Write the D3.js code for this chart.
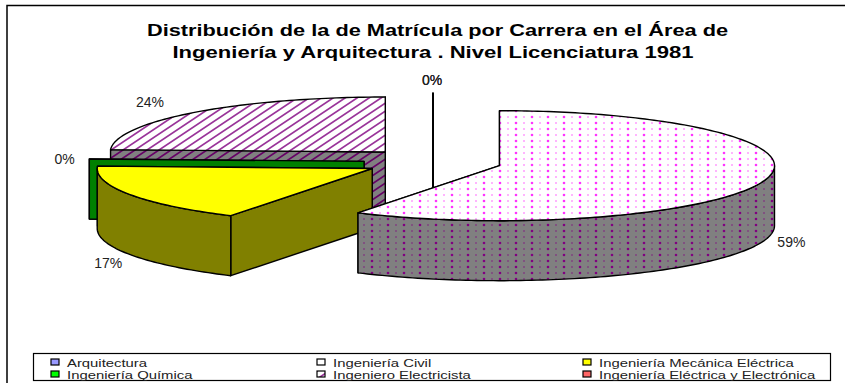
<!DOCTYPE html>
<html>
<head>
<meta charset="UTF-8">
<style>
    body { margin: 0; background: white; }
    svg { display: block; }
    text { font-family: "Liberation Sans", Arial, sans-serif; fill: #222; }
</style>
<script src="https://cdn.jsdelivr.net/npm/d3@7"></script>
</head>
<body>
<div id="chart"></div>
<script>
const categories = ['Arquitectura', 'Ingeniería Civil', 'Ingeniería Mecánica Eléctrica',
    'Ingeniería Química', 'Ingeniero Electricista', 'Ingeniería Eléctrica y Electrónica'];
const values = [0, 58.6, 17.1, 0, 24.3, 0];
const titleLines = ['Distribución de la de Matrícula por Carrera en el Área de',
    'Ingeniería y Arquitectura . Nivel Licenciatura 1981'];
const topFills = ['#9999ff', 'url(#dots)', '#ffff00', '#00ff00', 'url(#hatch)', '#ff6666'];
const wallFills = ['#4c4c80', 'url(#dotsDark)', '#808000', '#008000', 'url(#hatchDark)', '#803333'];
const swatchFills = ['#9999ff', '#ffffff', '#ffff00', '#00ff00', 'url(#hatch)', '#ff6666'];
// back to front
const drawOrder = [0, 5, 4, 3, 2, 1];
// small corrections to the automatic label spot
const labelNudge = [[-1, -8], [3, 0], [0, 6], [0, 0], [-28, -7], [-1, -8]];

const w = 845, h = 383;
const cx = 433, cy = 162, rx = 275, tilt = 0.2, depth = 60, explode = 69;

const svg = d3.select('#chart').append('svg').attr('width', w).attr('height', h);
const defs = svg.append('defs');

function dotPattern(id, bg, fg) {
    const p = defs.append('pattern').attr('id', id).attr('patternUnits', 'userSpaceOnUse')
        .attr('width', 16).attr('height', 6);
    p.append('rect').attr('width', 16).attr('height', 6).attr('fill', bg);
    p.append('circle').attr('cx', 4).attr('cy', 3).attr('r', 1.3).attr('fill', fg);
    p.append('circle').attr('cx', 12).attr('cy', 3).attr('r', 0.7).attr('fill', fg);
}
function hatchPattern(id, bg, fg) {
    const p = defs.append('pattern').attr('id', id).attr('patternUnits', 'userSpaceOnUse')
        .attr('width', 12).attr('height', 8);
    p.append('rect').attr('width', 12).attr('height', 8).attr('fill', bg);
    p.append('path').attr('d', 'M-3,10 L15,-2 M-15,10 L3,-2 M9,10 L27,-2')
        .attr('stroke', fg).attr('stroke-width', 1.7);
}
dotPattern('dots', '#ffffff', '#ff33ff');
dotPattern('dotsDark', '#808080', '#800080');
hatchPattern('hatch', '#ffffff', '#993399');
hatchPattern('hatchDark', '#808080', '#660066');

// frame, open on the right and at the bottom like the original
svg.append('path').attr('d', d3.line()([[7, h], [7, 5.5], [w, 5.5]]))
    .attr('fill', 'none').attr('stroke', '#000').attr('stroke-width', 1.5);

const titleWidths = [581, 521];
svg.selectAll('.title').data(titleLines).enter().append('text')
    .attr('class', 'title')
    .attr('x', (d, i) => i ? 433 : 437.5)
    .attr('y', (d, i) => 35.5 + i * 22)
    .attr('text-anchor', 'middle')
    .attr('textLength', (d, i) => titleWidths[i])
    .attr('lengthAdjust', 'spacingAndGlyphs')
    .style('font-size', '16px')
    .style('font-weight', 'bold')
    .style('fill', '#000')
    .text(d => d);

const arcs = d3.pie().sort(null)(values);
const line = d3.line();

function center(a) {
    const mid = (a.startAngle + a.endAngle) / 2;
    return [cx + explode * Math.sin(mid), cy - explode * Math.cos(mid) * tilt];
}
function project(c, angle, r) {
    return [c[0] + r * Math.sin(angle), c[1] - r * Math.cos(angle) * tilt];
}
function arcPoints(c, a0, a1) {
    const n = Math.max(1, Math.ceil((a1 - a0) / 0.02));
    return d3.range(n + 1).map(i => project(c, a0 + (a1 - a0) * i / n, rx));
}
const drop = p => [p[0], p[1] + depth];

const pieG = svg.append('g');
drawOrder.forEach(i => {
    const a = arcs[i], c = center(a);
    const g = pieG.append('g').attr('stroke', '#000').attr('stroke-width', 1.4)
        .attr('stroke-linejoin', 'round');

    // flat radial walls, the hidden one (end angle) goes first
    [a.endAngle, a.startAngle].forEach(angle => {
        const p = project(c, angle, rx);
        g.append('path').attr('d', line([c, p, drop(p), drop(c)]) + 'Z').attr('fill', wallFills[i]);
    });

    // curved wall, only the part facing the viewer
    const w0 = Math.max(a.startAngle, Math.PI / 2), w1 = Math.min(a.endAngle, Math.PI * 1.5);
    if (w1 > w0) {
        const pts = arcPoints(c, w0, w1);
        g.append('path').attr('d', line(pts.concat(pts.map(drop).reverse())) + 'Z').attr('fill', wallFills[i]);
    }

    // top
    if (a.endAngle > a.startAngle) {
        g.append('path').attr('d', line([c].concat(arcPoints(c, a.startAngle, a.endAngle))) + 'Z')
            .attr('fill', topFills[i]);
    }
});

// labels
svg.selectAll('.pct').data(arcs).enter().append('text')
    .attr('class', 'pct')
    .attr('text-anchor', 'middle')
    .style('font-size', '14px')
    .attr('transform', (a, i) => {
        const mid = (a.startAngle + a.endAngle) / 2;
        const p = project(center(a), mid, rx * 1.09);
        const front = mid > Math.PI / 2 && mid < Math.PI * 1.5;
        return `translate(${p[0] + labelNudge[i][0]},${p[1] + (front ? depth : 0) + labelNudge[i][1] + 5})`;
    })
    .text(a => Math.round(a.value) + '%');

// legend
svg.append('rect').attr('x', 33.5).attr('y', 353.5).attr('width', 797).attr('height', 27)
    .attr('fill', 'white').attr('stroke', '#000').attr('stroke-width', 1.2);

const legendX = d3.scalePoint().domain([0, 1, 2]).range([51, 583]);
const legendY = d3.scalePoint().domain([0, 1]).range([359, 371]);
const legend = svg.selectAll('.leg').data(categories).enter().append('g')
    .attr('class', 'leg')
    .attr('transform', (d, i) => `translate(${legendX(i % 3)},${legendY(Math.floor(i / 3))})`);
legend.append('rect').attr('width', 8).attr('height', 6)
    .attr('fill', (d, i) => swatchFills[i])
    .attr('stroke', '#000').attr('stroke-width', 1.2);
legend.append('text').attr('x', 16).attr('y', 7.5)
    .style('font-size', '11px')
    .text(d => d)
    .attr('lengthAdjust', 'spacingAndGlyphs')
    .attr('textLength', function() { return this.getComputedTextLength() * 1.35; });
</script>
</body>
</html>
